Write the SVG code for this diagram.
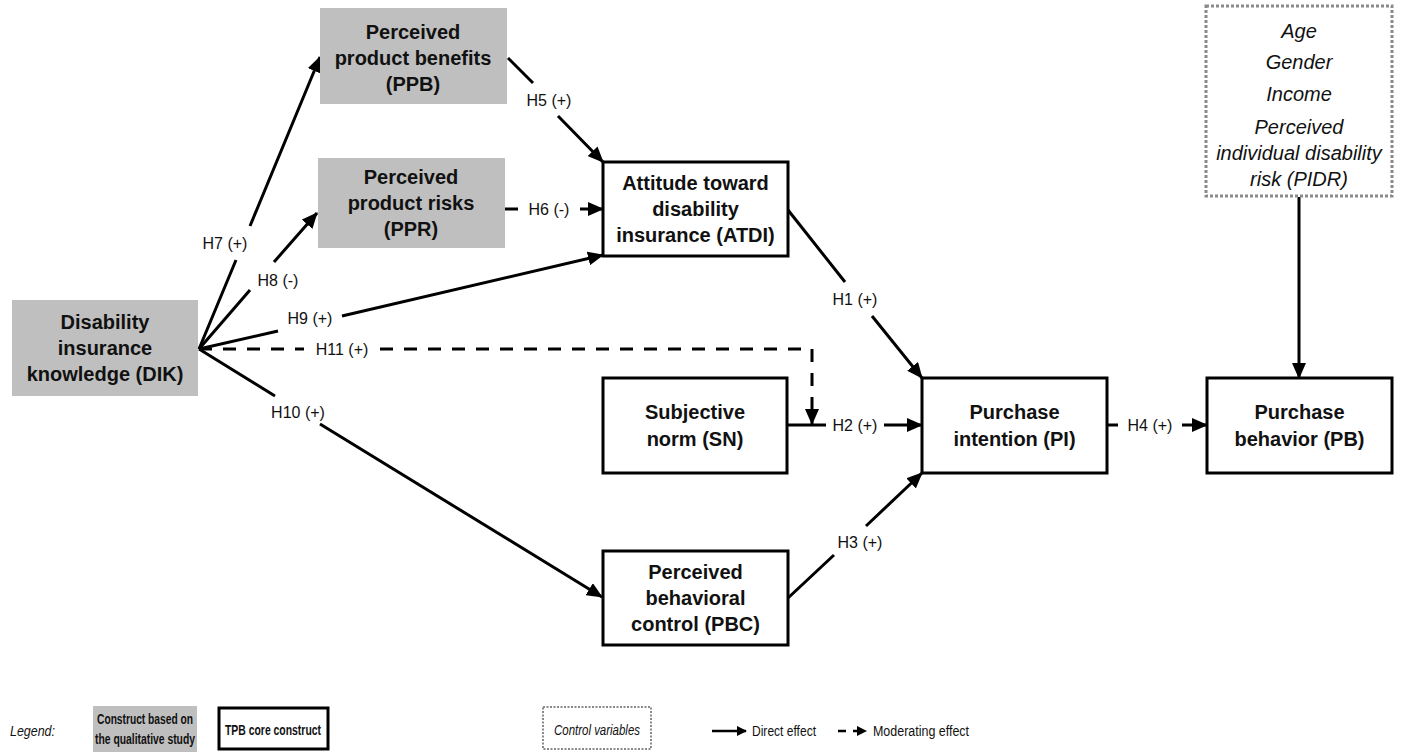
<svg xmlns="http://www.w3.org/2000/svg" width="1402" height="753" viewBox="0 0 1402 753">
<defs>
<marker id="ah" markerWidth="16" markerHeight="14" refX="15" refY="7" orient="auto" markerUnits="userSpaceOnUse"><path d="M0,0 L16,7 L0,14 z" fill="#000"/></marker>
<marker id="ahs" markerWidth="10" markerHeight="10" refX="9" refY="5" orient="auto" markerUnits="userSpaceOnUse"><path d="M0,0 L10,5 L0,10 z" fill="#000"/></marker>
<style>
.qual{fill:#bfbfbf;stroke:none}
.core{fill:#fff;stroke:#000;stroke-width:3}
.ctrl{fill:#fff;stroke:#8a8a8a;stroke-width:3;stroke-dasharray:3 2}
.nt{font-family:"Liberation Sans",Arial,sans-serif;font-weight:bold;font-size:20px;text-anchor:middle;fill:#111}
.ct{font-family:"Liberation Sans",Arial,sans-serif;font-style:italic;font-size:20px;text-anchor:middle;fill:#111}
.lb{font-family:"Liberation Sans",Arial,sans-serif;font-size:16px;text-anchor:middle;fill:#111}
.edge{fill:none;stroke:#000;stroke-width:3}
.dash{fill:none;stroke:#000;stroke-width:3;stroke-dasharray:13 11}
.lg{font-family:"Liberation Sans",Arial,sans-serif;font-size:14px;fill:#111}
</style>
</defs>
<rect width="1402" height="753" fill="#fff"/>

<g id="connectors">
<path class="edge" d="M199,349 L236,260 M250,226 L320,57" marker-end="url(#ah)"/>
<path class="edge" d="M199,349 L250,290 M274,262 L317,213" marker-end="url(#ah)"/>
<path class="edge" d="M199,349 L278,331 M342,316 L603,255" marker-end="url(#ah)"/>
<path class="edge" d="M199,349 L275,396 M320,424 L602,597" marker-end="url(#ah)"/>
<path class="dash" d="M199,349 L304,349"/>
<path class="dash" d="M380,349 L812,349 L812,424" marker-end="url(#ah)"/>
<path class="edge" d="M508,58 L533,83 M558,116 L603,162" marker-end="url(#ah)"/>
<path class="edge" d="M505,209 L518,209 M580,209 L603,209" marker-end="url(#ah)"/>
<path class="edge" d="M788,210 L845,282 M872,316 L922,378" marker-end="url(#ah)"/>
<path class="edge" d="M787,425 L826,425 M884,425 L922,425" marker-end="url(#ah)"/>
<path class="edge" d="M788,598 L834,555 M866,526 L922,473" marker-end="url(#ah)"/>
<path class="edge" d="M1107,425 L1118,425 M1182,425 L1207,425" marker-end="url(#ah)"/>
<path class="edge" d="M1299,197 L1299,378" marker-end="url(#ah)"/>
<text class="lb" x="225" y="249">H7 (+)</text>
<text class="lb" x="278" y="286">H8 (-)</text>
<text class="lb" x="310" y="324">H9 (+)</text>
<text class="lb" x="298" y="418">H10 (+)</text>
<text class="lb" x="342" y="355">H11 (+)</text>
<text class="lb" x="549" y="106">H5 (+)</text>
<text class="lb" x="549" y="215">H6 (-)</text>
<text class="lb" x="855" y="305">H1 (+)</text>
<text class="lb" x="855" y="431">H2 (+)</text>
<text class="lb" x="860" y="548">H3 (+)</text>
<text class="lb" x="1150" y="431">H4 (+)</text>
</g>

<g id="DIK">
<rect class="qual" x="12" y="300" width="186" height="96"/>
<text class="nt" x="105" y="329">Disability</text>
<text class="nt" x="105" y="355">insurance</text>
<text class="nt" x="105" y="381">knowledge (DIK)</text>
</g>
<g id="PPB">
<rect class="qual" x="320" y="8" width="187" height="96"/>
<text class="nt" x="413" y="39">Perceived</text>
<text class="nt" x="413" y="65">product benefits</text>
<text class="nt" x="413" y="91">(PPB)</text>
</g>
<g id="PPR">
<rect class="qual" x="318" y="158" width="187" height="90"/>
<text class="nt" x="411" y="184">Perceived</text>
<text class="nt" x="411" y="210">product risks</text>
<text class="nt" x="411" y="236">(PPR)</text>
</g>
<g id="ATDI">
<rect class="core" x="603" y="162" width="185" height="94"/>
<text class="nt" x="695.5" y="190">Attitude toward</text>
<text class="nt" x="695.5" y="216">disability</text>
<text class="nt" x="695.5" y="242">insurance (ATDI)</text>
</g>
<g id="SN">
<rect class="core" x="603" y="378" width="184" height="95"/>
<text class="nt" x="695" y="419">Subjective</text>
<text class="nt" x="695" y="446">norm (SN)</text>
</g>
<g id="PI">
<rect class="core" x="922" y="378" width="185" height="95"/>
<text class="nt" x="1014.5" y="419">Purchase</text>
<text class="nt" x="1014.5" y="446">intention (PI)</text>
</g>
<g id="PB">
<rect class="core" x="1207" y="378" width="185" height="95"/>
<text class="nt" x="1299.5" y="419">Purchase</text>
<text class="nt" x="1299.5" y="446">behavior (PB)</text>
</g>
<g id="PBC">
<rect class="core" x="603" y="551" width="185" height="94"/>
<text class="nt" x="695.5" y="579">Perceived</text>
<text class="nt" x="695.5" y="605">behavioral</text>
<text class="nt" x="695.5" y="631">control (PBC)</text>
</g>
<g id="Controls">
<rect class="ctrl" x="1206" y="6" width="186" height="190"/>
<text class="ct" x="1299" y="38">Age</text>
<text class="ct" x="1299" y="69">Gender</text>
<text class="ct" x="1299" y="101">Income</text>
<text class="ct" x="1299" y="134">Perceived</text>
<text class="ct" x="1299" y="160">individual disability</text>
<text class="ct" x="1299" y="186">risk (PIDR)</text>
</g>

<g id="legend">
<text class="lg" x="10" y="736" font-style="italic" textLength="45" lengthAdjust="spacingAndGlyphs">Legend:</text>
<rect class="qual" x="93" y="706" width="104" height="46"/>
<text class="lg" x="145" y="724" text-anchor="middle" font-weight="bold" textLength="96" lengthAdjust="spacingAndGlyphs">Construct based on</text>
<text class="lg" x="145" y="744" text-anchor="middle" font-weight="bold" textLength="100" lengthAdjust="spacingAndGlyphs">the qualitative study</text>
<rect class="core" x="219" y="708" width="109" height="41"/>
<text class="lg" x="273" y="735" text-anchor="middle" font-weight="bold" textLength="96" lengthAdjust="spacingAndGlyphs">TPB core construct</text>
<rect x="543" y="707" width="108" height="42" fill="#fff" stroke="#8a8a8a" stroke-width="2" stroke-dasharray="2 1.5"/>
<text class="lg" x="597" y="735" text-anchor="middle" font-style="italic" textLength="86" lengthAdjust="spacingAndGlyphs">Control variables</text>
<path d="M712,731 L746,731" stroke="#000" stroke-width="2.5" marker-end="url(#ahs)"/>
<text class="lg" x="752" y="736" textLength="64" lengthAdjust="spacingAndGlyphs">Direct effect</text>
<path d="M838,731 L866,731" stroke="#000" stroke-width="2.5" stroke-dasharray="8 7" marker-end="url(#ahs)"/>
<text class="lg" x="873" y="736" textLength="96" lengthAdjust="spacingAndGlyphs">Moderating effect</text>
</g>
</svg>
